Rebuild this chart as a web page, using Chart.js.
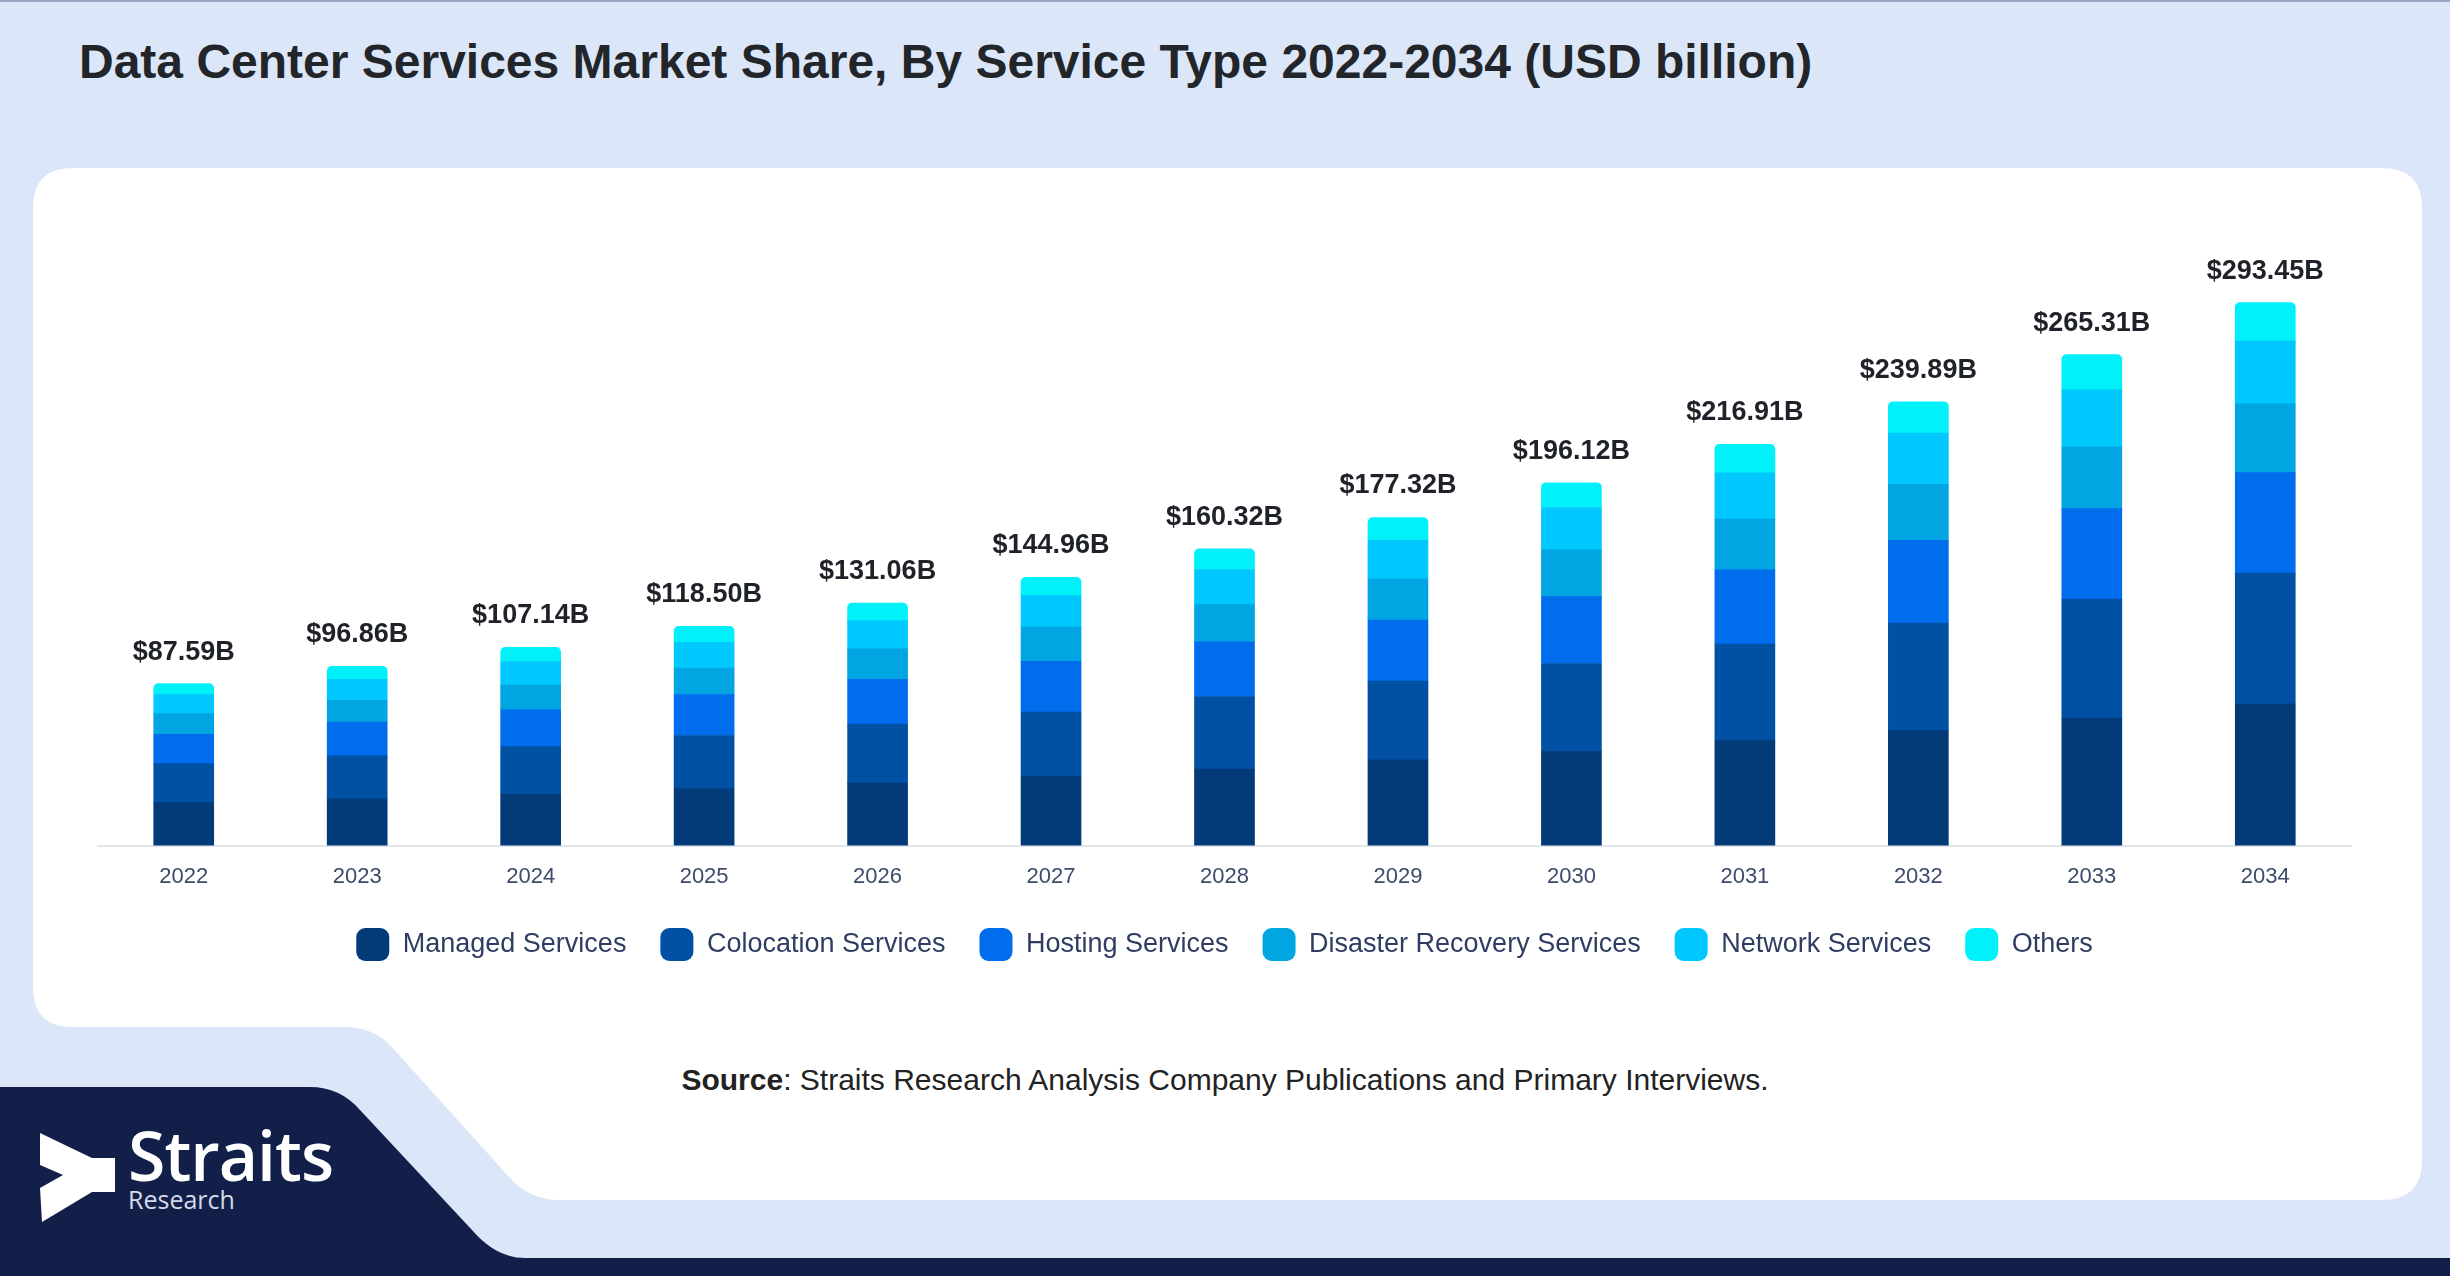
<!DOCTYPE html>
<html>
<head>
<meta charset="utf-8">
<script src="https://cdn.jsdelivr.net/npm/chart.js@4.4.1/dist/chart.umd.min.js"></script>
<style>
  html, body { margin: 0; padding: 0; }
  body { width: 2450px; height: 1276px; position: relative; overflow: hidden; background: #dbe7f8; font-family: "Liberation Sans", Arial, sans-serif; }
  #bg { position: absolute; left: 0; top: 0; }
  #title { position: absolute; left: 79px; top: 34px; font-size: 48px; font-weight: bold; color: #22262b; white-space: nowrap; }
  #chartBox { position: absolute; left: 97px; top: 149px; width: 2255px; height: 822px; }
  #source { position: absolute; left: 0; width: 2450px; top: 1063px; text-align: center; font-size: 30px; color: #222; }
  #logoText { position: absolute; left: 128px; top: 1117px; color: #fff; font-family: "Open Sans", sans-serif; }
  #logoText .big { font-size: 68px; font-weight: 600; line-height: 76px; letter-spacing: -1px; }
  #logoText .small { font-size: 25px; line-height: 25px; color: #d5dbe8; margin-top: -6px; }
</style>
</head>
<body>
<svg id="bg" width="2450" height="1276" viewBox="0 0 2450 1276">
  <rect x="0" y="0" width="2450" height="2" fill="#9aa6c6"/>
  <path d="M73,168 L2382,168 Q2422,168 2422,208 L2422,1160 Q2422,1200 2382,1200 L560,1200 Q530,1200 510,1178 L390,1045 Q372,1027 345,1027 L73,1027 Q33,1027 33,987 L33,208 Q33,168 73,168 Z" fill="#ffffff"/>
  <path d="M0,1087 L310,1087 Q340,1087 360,1110 L472,1230 Q496,1258 525,1258 L2450,1258 L2450,1276 L0,1276 Z" fill="#121f48"/>
  <polygon points="40,1133 92,1158 115,1158 115,1192 92,1192 42,1222 40,1188 63,1175 40,1165" fill="#ffffff"/>
</svg>
<div id="title">Data Center Services Market Share, By Service Type 2022-2034 (USD billion)</div>
<div id="chartBox"><canvas id="chart" width="2255" height="822"></canvas></div>
<div id="source"><b>Source</b>: Straits Research Analysis Company Publications and Primary Interviews.</div>
<div id="logoText"><div class="big">Straits</div><div class="small">Research</div></div>
<script>
const years = ['2022', '2023', '2024', '2025', '2026', '2027', '2028', '2029', '2030', '2031', '2032', '2033', '2034'];
const managed    = [23.20, 25.30, 27.70, 30.70, 33.80, 37.50, 41.30, 46.30, 50.80, 56.70, 62.10, 68.80, 76.50];
const colocation = [21.10, 23.20, 25.80, 28.80, 31.90, 34.70, 39.30, 42.60, 47.60, 52.20, 58.20, 64.40, 70.80];
const hosting    = [15.90, 18.30, 19.90, 22.10, 24.20, 27.40, 29.50, 33.00, 36.20, 40.20, 44.70, 48.90, 54.30];
const recovery   = [11.10, 11.70, 13.40, 14.30, 16.50, 18.50, 20.10, 22.30, 25.20, 27.30, 30.20, 33.40, 37.20];
const network    = [10.30, 11.40, 12.70, 14.00, 15.20, 17.00, 19.00, 20.80, 22.90, 25.10, 27.70, 30.80, 33.90];
const others     = [5.99, 6.96, 7.64, 8.60, 9.46, 9.86, 11.12, 12.32, 13.42, 15.41, 16.99, 19.01, 20.75];
const totals     = [87.59, 96.86, 107.14, 118.50, 131.06, 144.96, 160.32, 177.32, 196.12, 216.91, 239.89, 265.31, 293.45];

Chart.defaults.font.family = '"Liberation Sans", Arial, sans-serif';

// total value written above each stacked bar
const totalLabels = {
    id: 'totalLabels',
    afterDatasetsDraw(chart) {
        const ctx = chart.ctx;
        const top = chart.getDatasetMeta(chart.data.datasets.length - 1);
        ctx.save();
        ctx.font = 'bold 27px "Liberation Sans", Arial, sans-serif';
        ctx.fillStyle = '#1f2329';
        ctx.textAlign = 'center';
        ctx.textBaseline = 'alphabetic';
        top.data.forEach(function(bar, i) {
            ctx.fillText('$' + totals[i].toFixed(2) + 'B', bar.x, bar.y - 24);
        });
        ctx.restore();
    }
};

new Chart(document.getElementById('chart'), {
    type: 'bar',
    data: {
        labels: years,
        datasets: [
            { label: 'Managed Services', data: managed, backgroundColor: '#033a78' },
            { label: 'Colocation Services', data: colocation, backgroundColor: '#0051a4' },
            { label: 'Hosting Services', data: hosting, backgroundColor: '#006ded' },
            { label: 'Disaster Recovery Services', data: recovery, backgroundColor: '#00a5e1' },
            { label: 'Network Services', data: network, backgroundColor: '#00c8fe' },
            { label: 'Others', data: others, backgroundColor: '#00f1f9',
              borderRadius: { topLeft: 5, topRight: 5, bottomLeft: 0, bottomRight: 0 }, borderSkipped: false }
        ]
    },
    options: {
        responsive: false,
        animation: false,
        barThickness: 60,
        layout: { padding: { top: 141.5, left: 0, right: 0, bottom: 0 } },
        plugins: {
            tooltip: { enabled: false },
            legend: {
                position: 'bottom',
                labels: {
                    boxWidth: 33,
                    boxHeight: 33,
                    useBorderRadius: true,
                    borderRadius: 9,
                    padding: 34,
                    color: '#2f3d62',
                    font: { size: 27 }
                }
            }
        },
        scales: {
            x: {
                stacked: true,
                grid: { display: false, drawTicks: false },
                border: { display: true, color: '#e3e6eb', width: 2 },
                ticks: { padding: 18, color: '#3d4a6a', font: { size: 22 } },
                afterFit: function(scale) { scale.height -= 14; }
            },
            y: {
                stacked: true,
                display: false,
                min: 0,
                max: 300
            }
        }
    },
    plugins: [totalLabels]
});
</script>
</body>
</html>
